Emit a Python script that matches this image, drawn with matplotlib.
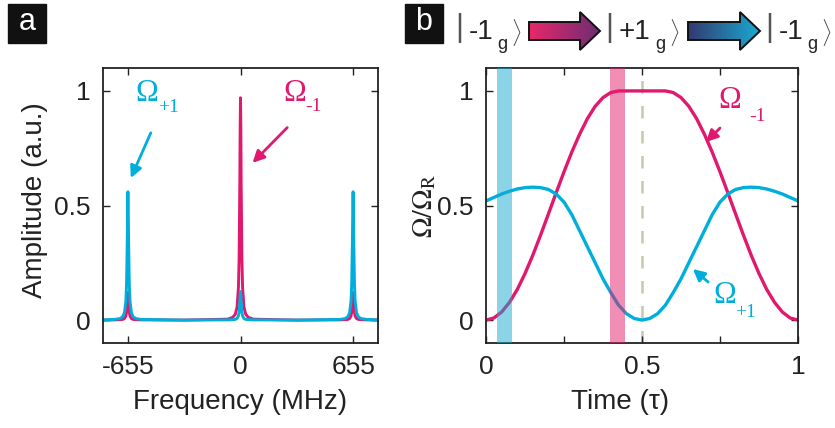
#!/usr/bin/env python3
import numpy as np
import matplotlib
matplotlib.use("Agg")
import matplotlib.pyplot as plt
from matplotlib.patches import Polygon, Rectangle
from matplotlib.colors import LinearSegmentedColormap

# def par
plt.rcParams['font.family'] = ['Liberation Sans', 'DejaVu Sans']
plt.rcParams['mathtext.fontset'] = 'custom'
plt.rcParams['mathtext.rm'] = 'Liberation Sans'
plt.rcParams['mathtext.it'] = 'Liberation Sans:italic'

c_mag = '#e0196e'
c_cyan = '#00aedb'

# ---- panel a : spectrum ----
freq_mhz = [-800, -730, -700, -685, -675, -667, -663, -659, -657, -655, -653, -651, -647, -643, -635, -625, -610, -580,
            -330,
            -75, -45, -30, -20, -12, -8, -4, -2, 0, 2, 4, 8, 12, 20, 30, 45, 75,
            330,
            580, 610, 625, 635, 643, 647, 651, 653, 655, 657, 659, 663, 667, 675, 685, 700, 730, 800]
amp_minus1 = [0.000, 0.001, 0.002, 0.003, 0.007, 0.018, 0.034, 0.073, 0.103, 0.120, 0.103, 0.073, 0.034, 0.018, 0.007, 0.003, 0.002, 0.001,
              0.000,
              0.004, 0.012, 0.026, 0.057, 0.143, 0.272, 0.591, 0.836, 0.970, 0.836, 0.591, 0.272, 0.143, 0.057, 0.026, 0.012, 0.004,
              0.000,
              0.001, 0.002, 0.003, 0.007, 0.018, 0.034, 0.073, 0.103, 0.120, 0.103, 0.073, 0.034, 0.018, 0.007, 0.003, 0.002, 0.001, 0.000]
amp_plus1 = [0.001, 0.003, 0.007, 0.015, 0.033, 0.083, 0.157, 0.341, 0.483, 0.560, 0.483, 0.341, 0.157, 0.083, 0.033, 0.015, 0.007, 0.003,
             0.000,
             0.001, 0.002, 0.003, 0.007, 0.019, 0.035, 0.076, 0.108, 0.125, 0.108, 0.076, 0.035, 0.019, 0.007, 0.003, 0.002, 0.001,
             0.000,
             0.003, 0.007, 0.015, 0.033, 0.083, 0.157, 0.341, 0.483, 0.560, 0.483, 0.341, 0.157, 0.083, 0.033, 0.015, 0.007, 0.003, 0.001]
freq_ticks = [-655, 0, 655]
freq_ticklabels = ['-655', '0', '655']

# ---- panel b : pulse shapes ----
time_tau = [0.000, 0.025, 0.050, 0.075, 0.100, 0.125, 0.150, 0.175, 0.200, 0.225, 0.250, 0.275, 0.300, 0.325, 0.350,
            0.375, 0.400, 0.425, 0.450, 0.475, 0.500, 0.525, 0.550, 0.575, 0.600, 0.625, 0.650, 0.675, 0.700, 0.725,
            0.750, 0.775, 0.800, 0.825, 0.850, 0.875, 0.900, 0.925, 0.950, 0.975, 1.000]
omega_minus1 = [0.000, 0.009, 0.035, 0.077, 0.133, 0.203, 0.283, 0.371, 0.463, 0.556, 0.647, 0.733, 0.811, 0.879, 0.933,
                0.971, 0.993, 1.000, 1.000, 1.000, 1.000, 1.000, 1.000, 1.000, 0.993, 0.971, 0.933, 0.879, 0.811, 0.733,
                0.647, 0.556, 0.463, 0.371, 0.283, 0.203, 0.133, 0.077, 0.035, 0.009, 0.000]
omega_plus1 = [0.520, 0.535, 0.550, 0.562, 0.572, 0.578, 0.580, 0.578, 0.570, 0.550, 0.515, 0.460, 0.390, 0.320, 0.250,
               0.180, 0.120, 0.065, 0.028, 0.007, 0.000, 0.007, 0.028, 0.065, 0.120, 0.180, 0.250, 0.320, 0.390, 0.460,
               0.515, 0.550, 0.570, 0.578, 0.580, 0.578, 0.572, 0.562, 0.550, 0.535, 0.520]
band_cyan = [0.034, 0.082]
band_mag = [0.397, 0.446]
t_mid = 0.5
time_ticks = [0, 0.25, 0.5, 0.75, 1]
time_ticklabels = ['0', '', '0.5', '', '1']

# header: state sequence
ket_states = ['-1', '+1', '-1']


# ============================================================================
def style_axes(ax):
    for sp in ax.spines.values():
        sp.set_linewidth(1.3)
        sp.set_color('#222222')
    ax.tick_params(direction='in', length=5, width=1.0, top=True, right=True,
                   labelsize=19, pad=9, colors='#222222')
    ax.set_ylim(-0.1, 1.1)
    ax.set_yticks([0, 0.5, 1])
    ax.set_yticklabels(['0', '0.5', '1'])


def omega_label(ax, x, y, sub, color, sx, sy):
    ax.text(x, y, u'\u03a9', color=color, fontsize=22, family='Liberation Serif',
            ha='center', va='center')
    ax.text(sx, sy, sub, color=color, fontsize=14, family='Liberation Serif',
            ha='center', va='center')


def small_arrow(ax, tail, head, color):
    ax.annotate('', xy=head, xytext=tail,
                arrowprops=dict(arrowstyle='-|>,head_length=0.7,head_width=0.35',
                                color=color, lw=2.0, shrinkA=0, shrinkB=0))


# ============================================================================
def plot_spectrum(ax):
    ax.plot(freq_mhz, amp_minus1, color=c_mag, lw=2.1, solid_joinstyle='round')
    ax.plot(freq_mhz, amp_plus1, color=c_cyan, lw=2.1, solid_joinstyle='round')
    ax.set_xlim(-800, 800)
    style_axes(ax)
    ax.set_xticks(freq_ticks)
    ax.set_xticklabels(freq_ticklabels)
    ax.set_xlabel('Frequency (MHz)', fontsize=20, color='#222222')
    ax.set_ylabel('Amplitude (a.u.)', fontsize=20, color='#222222')
    ax.xaxis.set_label_coords(0.5, -0.215)
    ax.yaxis.set_label_coords(-0.247, 0.52)
    ax.yaxis.label.set_verticalalignment('center')
    ax.xaxis.label.set_verticalalignment('center')

    omega_label(ax, -545, 0.99, '+1', c_cyan, -417, 0.926)
    small_arrow(ax, (-522, 0.817), (-638, 0.62), c_cyan)
    omega_label(ax, 313, 0.99, '-1', c_mag, 423, 0.934)
    small_arrow(ax, (272, 0.84), (70, 0.686), c_mag)


# ============================================================================
def plot_pulses(ax):
    ax.axvline(t_mid, color='#c8c8aa', lw=1.8, dashes=(5, 5), zorder=1)
    ax.plot(time_tau, omega_minus1, color=c_mag, lw=2.4, zorder=2)
    ax.plot(time_tau, omega_plus1, color=c_cyan, lw=2.4, zorder=2)
    ax.axvspan(band_cyan[0], band_cyan[1], color='#19a9d0', alpha=0.5, lw=0, zorder=3)
    ax.axvspan(band_mag[0], band_mag[1], color='#e41e6e', alpha=0.5, lw=0, zorder=3)
    ax.set_xlim(0, 1)
    style_axes(ax)
    ax.set_xticks(time_ticks)
    ax.set_xticklabels(time_ticklabels)
    ax.set_xlabel(u'Time (\u03c4)', fontsize=20, color='#222222')
    ax.set_ylabel(r'$\Omega/\Omega_\mathrm{R}$', fontsize=20, color='#222222',
                  math_fontfamily='stix')
    ax.xaxis.set_label_coords(0.43, -0.215)
    ax.yaxis.set_label_coords(-0.196, 0.50)
    ax.yaxis.label.set_verticalalignment('center')
    ax.xaxis.label.set_verticalalignment('center')

    omega_label(ax, 0.782, 0.96, '-1', c_mag, 0.869, 0.89)
    small_arrow(ax, (0.75, 0.838), (0.705, 0.777), c_mag)
    omega_label(ax, 0.766, 0.109, '+1', c_cyan, 0.833, 0.035)
    small_arrow(ax, (0.712, 0.166), (0.663, 0.223), c_cyan)


# ============================================================================
def grad_arrow(ax, x0, x1, yc, c0, c1):
    bh, hh, hl = 18, 38, 20
    pts = [(x0, yc - bh / 2), (x1 - hl, yc - bh / 2), (x1 - hl, yc - hh / 2), (x1, yc),
           (x1 - hl, yc + hh / 2), (x1 - hl, yc + bh / 2), (x0, yc + bh / 2)]
    cmap = LinearSegmentedColormap.from_list('g', [c0, c1])
    grad = np.linspace(0, 1, 256).reshape(1, -1)
    im = ax.imshow(grad, cmap=cmap, aspect='auto',
                   extent=(x0, x1, yc + hh / 2, yc - hh / 2))
    clip = Polygon(pts, closed=True, transform=ax.transData, facecolor='none')
    im.set_clip_path(clip)
    ax.add_patch(Polygon(pts, closed=True, facecolor='none', edgecolor='#111111', lw=1.4))


def draw_ket(ax, x0, state, num_w):
    # | state_g >
    ax.text(x0, 28, '|', fontsize=22, color='#555555', ha='center', va='center')
    ax.text(x0 + 10, 32, state, fontsize=20, color='#222222', ha='left', va='center')
    ax.text(x0 + 10 + num_w, 49, 'g', fontsize=13, color='#222222', ha='left', va='baseline')
    ax.text(x0 + 29 + num_w, 32, r'$\rangle$', fontsize=16, color='#444444',
            ha='center', va='center')


def plot_overlay(fig):
    ax0 = fig.add_axes([0, 0, 1, 1])
    ax0.axis('off')

    # panel letters
    for x0, letter in [(8, 'a'), (405, 'b')]:
        ax0.add_patch(Rectangle((x0, 4), 38, 39, color='#111111'))
        ax0.text(x0 + 19, 22, letter, color='white', fontsize=22, ha='center', va='center')

    # state sequence header
    grad_arrow(ax0, 529, 600, 31, '#e8286a', '#6e2c72')
    grad_arrow(ax0, 688, 760, 31, '#33396f', '#1aaad2')
    draw_ket(ax0, 459, ket_states[0], 28)
    draw_ket(ax0, 609, ket_states[1], 36)
    draw_ket(ax0, 769, ket_states[2], 28)

    ax0.set_xlim(0, 835)
    ax0.set_ylim(428, 0)


# ============================================================================
def real_main():
    fig = plt.figure(figsize=(8.35, 4.28), dpi=100)
    ax1 = fig.add_axes([103 / 835, 1 - 343 / 428, 275 / 835, 275 / 428])
    ax2 = fig.add_axes([486 / 835, 1 - 343 / 428, 312 / 835, 275 / 428])
    plot_spectrum(ax1)
    plot_pulses(ax2)
    plot_overlay(fig)
    fig.savefig('out.png', dpi=100)


# ============================================================================
if __name__ == "__main__":
    real_main()
